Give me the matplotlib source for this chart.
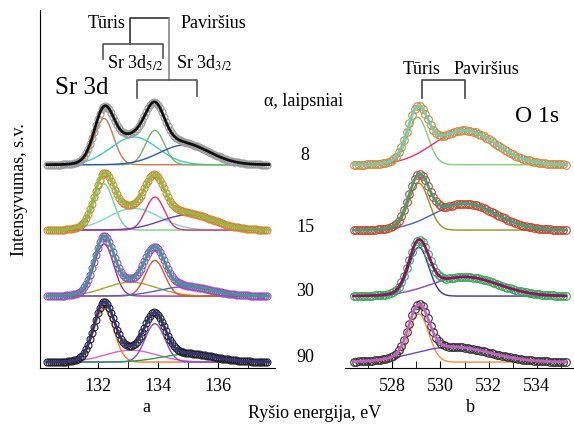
import numpy as np
import matplotlib
matplotlib.use('Agg')
import matplotlib.pyplot as plt

plt.rcParams['font.family'] = ['Liberation Serif', 'DejaVu Serif']
plt.rcParams['mathtext.fontset'] = 'stix'

angles = ['8', '15', '30', '90']
offsets = [3.08, 2.09, 1.09, 0.09]

# Sr 3d fit components: (centre eV, height, sigma) for each angle
# order: bulk 3d5/2, surface 3d5/2, bulk 3d3/2, surface 3d3/2
sr_peaks = [
    [(132.2, 0.70, 0.32), (133.2, 0.42, 0.78), (133.9, 0.52, 0.31), (134.9, 0.30, 0.85)],
    [(132.2, 0.70, 0.32), (133.2, 0.33, 0.85), (133.9, 0.50, 0.31), (135.0, 0.23, 0.90)],
    [(132.2, 0.79, 0.32), (133.1, 0.21, 0.85), (133.9, 0.54, 0.32), (134.9, 0.14, 0.90)],
    [(132.2, 0.81, 0.33), (133.1, 0.18, 0.85), (133.9, 0.58, 0.33), (135.0, 0.12, 0.90)],
]
sr_comp_colors = [
    ['#c47a52', '#45c3d6', '#6cb865', '#3556a6'],
    ['#74d48a', '#7fd6c4', '#e5316f', '#6a3fa8'],
    ['#9a2fa6', '#a3a332', '#e2521f', '#4a66c4'],
    ['#ff7a24', '#e063c2', '#8447d6', '#22a04a'],
]
sr_fit_colors = ['#111111', '#8cbf3c', '#3a9c8c', '#33337f']
sr_dot_colors = ['#9a9a9a', '#d0853a', '#9a4fc0', '#222222']

# O 1s fit components: bulk, surface
o_peaks = [
    [(529.05, 0.72, 0.42), (531.0, 0.52, 1.30)],
    [(529.10, 0.71, 0.42), (531.0, 0.40, 1.30)],
    [(529.10, 0.74, 0.41), (531.0, 0.29, 1.40)],
    [(529.10, 0.73, 0.41), (530.5, 0.23, 1.55)],
]
o_comp_colors = [
    ['#7fd17f', '#e6336f'],
    ['#939022', '#4a63b3'],
    ['#35339f', '#8843c4'],
    ['#ff8a3a', '#6a45c8'],
]
o_fit_colors = ['#74cbb2', '#3aa27c', '#931064', '#c462c4']
o_dot_colors = ['#d0883f', '#c7442f', '#35a755', '#333333']

sr_range = (130.3, 137.7)
o_range = (526.4, 535.2)


def gauss(x, c, h, s):
    return h * np.exp(-(x - c) ** 2 / (2 * s ** 2))


fig = plt.figure(figsize=(5.74, 4.28), dpi=100)
W, H = 574.0, 428.0
ylim = (0, 358 / 66.0)

axa = fig.add_axes([40 / W, (H - 368) / H, 235 / W, 358 / H])
axb = fig.add_axes([345 / W, (H - 368) / H, 228 / W, 358 / H])

for ax in (axa, axb):
    ax.set_ylim(*ylim)
    ax.set_yticks([])
    for s in ('top', 'right'):
        ax.spines[s].set_visible(False)
    ax.tick_params(axis='x', which='both', direction='in', length=5,
                   labelsize=13, pad=7)
    ax.patch.set_alpha(0)
axb.spines['left'].set_visible(False)

axa.set_xlim(130.07, 137.9)
axa.set_xticks([132, 134, 136])
axa.set_xticks([131, 133, 135, 137], minor=True)
axb.set_xlim(526.04, 535.5)
axb.set_xticks([528, 530, 532, 534])
axb.set_xticks([527, 529, 531, 533, 535], minor=True)

x_sr = np.arange(sr_range[0], sr_range[1] + 0.001, 0.02)
x_sr_dots = np.arange(sr_range[0], sr_range[1] + 0.001, 0.065)
for i in range(4):
    off = offsets[i]
    env = np.zeros_like(x_sr)
    env_d = np.zeros_like(x_sr_dots)
    for (c, h, s), col in zip(sr_peaks[i], sr_comp_colors[i]):
        y = gauss(x_sr, c, h, s)
        env += y
        env_d += gauss(x_sr_dots, c, h, s)
        axa.plot(x_sr, y + off, color=col, lw=1.0, zorder=2)
    axa.plot(x_sr_dots, env_d + off, 'o', mfc='none', mec=sr_dot_colors[i],
             ms=5, mew=0.8, zorder=3)
    axa.plot(x_sr, env + off, color=sr_fit_colors[i], lw=2.0, zorder=4)

x_o = np.arange(o_range[0], o_range[1] + 0.001, 0.02)
x_o_dots = np.arange(o_range[0], o_range[1] + 0.001, 0.11)
for i in range(4):
    off = offsets[i]
    env = np.zeros_like(x_o)
    env_d = np.zeros_like(x_o_dots)
    for (c, h, s), col in zip(o_peaks[i], o_comp_colors[i]):
        y = gauss(x_o, c, h, s)
        env += y
        env_d += gauss(x_o_dots, c, h, s)
        axb.plot(x_o, y + off, color=col, lw=1.0, zorder=2)
    axb.plot(x_o_dots, env_d + off, 'o', mfc='none', mec=o_dot_colors[i],
             ms=5.5, mew=0.8, zorder=3)
    axb.plot(x_o, env + off, color=o_fit_colors[i], lw=2.0, zorder=4)

# text and brackets in figure pixel coordinates (y from top)
def tx(x, y, s, **kw):
    fig.text(x / W, 1 - y / H, s, ha='center', va='center', **kw)

def ln(xs, ys, color):
    fig.add_artist(plt.Line2D([v / W for v in xs], [1 - v / H for v in ys],
                              color=color, lw=1.2, transform=fig.transFigure))

tx(20, 190, 'Intensyvumas, s.v.', fontsize=13, rotation=90)
tx(315, 414, 'Ryšio energija, eV', fontsize=13)
tx(146, 408, 'a', fontsize=13)
tx(470, 408, 'b', fontsize=13)
tx(82, 88, 'Sr 3d', fontsize=18)
tx(537, 117, 'O 1s', fontsize=17)
tx(303, 101, 'α, laipsniai', fontsize=13)
for a, yy in zip(angles, [155, 227, 292, 357]):
    tx(305, yy, a, fontsize=13)

tx(107, 23, 'Tūris', fontsize=13)
tx(213, 23, 'Paviršius', fontsize=13)
tx(135, 63, r'Sr 3d$_{5/2}$', fontsize=13)
tx(204, 63, r'Sr 3d$_{3/2}$', fontsize=13)
ln([130, 130, 169], [44, 18, 18], '#333333')
ln([103, 103, 163, 163], [59, 44, 44, 58], '#555555')
ln([169, 169], [18, 80], '#888888')
ln([137, 137, 197, 197], [98, 80, 80, 96], '#555555')

tx(422, 69, 'Tūris', fontsize=13)
tx(486, 69, 'Paviršius', fontsize=13)
ln([422, 422, 465, 465], [98, 80, 80, 98], '#444444')

fig.savefig('out.png', dpi=100)
